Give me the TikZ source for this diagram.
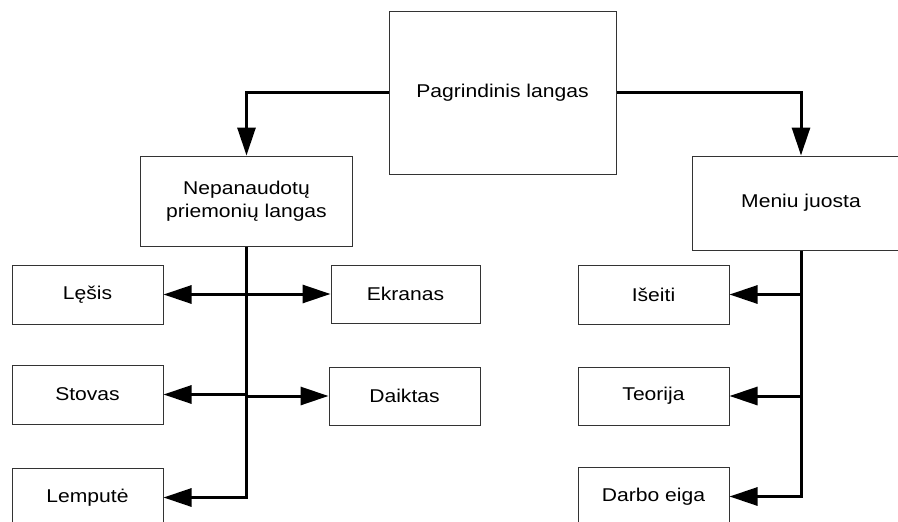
\documentclass[tikz,border=0pt]{standalone}
\usepackage{fontspec}
\setmainfont{Liberation Sans}[FakeStretch=1.14]
\usetikzlibrary{arrows.meta}
\begin{document}
\begin{tikzpicture}[x=1pt,y=-1pt,
  box/.style={draw=black!80,line width=1pt,fill=white,inner sep=0pt,
    align=center,font=\fontsize{18.5}{23}\selectfont},
  link/.style={line width=3pt,line join=miter,
    -{Triangle[length=28pt,width=18pt]}},
  plain/.style={line width=3pt,line join=miter}]
\useasboundingbox (0,0) rectangle (898,522);
\clip (0,0) rectangle (898,522);

% boxes
\node[box,minimum width=227pt,minimum height=163pt] (main) at (502.5,92.5) {Pagrindinis langas};
\node[box,minimum width=212pt,minimum height=90pt] (nep) at (246.5,201) {Nepanaudotų\\priemonių langas};
\node[box,minimum width=218pt,minimum height=94pt] (menu) at (801,203) {Meniu juosta};

\node[box,minimum width=151pt,minimum height=59pt] (lesis) at (87.5,294.5) {Lęšis};
\node[box,minimum width=149pt,minimum height=58pt] (ekr) at (405.5,294) {Ekranas};
\node[box,minimum width=151pt,minimum height=59pt] (stov) at (87.5,394.5) {Stovas};
\node[box,minimum width=151pt,minimum height=58pt] (daik) at (404.5,396) {Daiktas};
\node[box,minimum width=151pt,minimum height=59pt] (lemp) at (87.5,497.5) {Lemputė};

\node[box,minimum width=151pt,minimum height=59pt] (ise) at (653.5,294.5) {Išeiti};
\node[box,minimum width=151pt,minimum height=58pt] (teo) at (653.5,396) {Teorija};
\node[box,minimum width=151pt,minimum height=59pt] (darbo) at (653.5,496.5) {Darbo eiga};

% top-level branches
\draw[link] (main.west) -| (nep.north);
\draw[link] (main.east) -| (menu.north);

% tool window branches
\draw[link] (nep.south) |- (lemp.east);
\draw[link] (nep.south |- lesis.east) -- (lesis.east);
\draw[link] (nep.south |- ekr.west) -- (ekr.west);
\draw[link] (nep.south |- stov.east) -- (stov.east);
\draw[link] (nep.south |- daik.west) -- (daik.west);

% menu bar branches
\draw[link] (menu.south) |- (darbo.east);
\draw[link] (menu.south |- ise.east) -- (ise.east);
\draw[link] (menu.south |- teo.east) -- (teo.east);
\end{tikzpicture}
\end{document}
